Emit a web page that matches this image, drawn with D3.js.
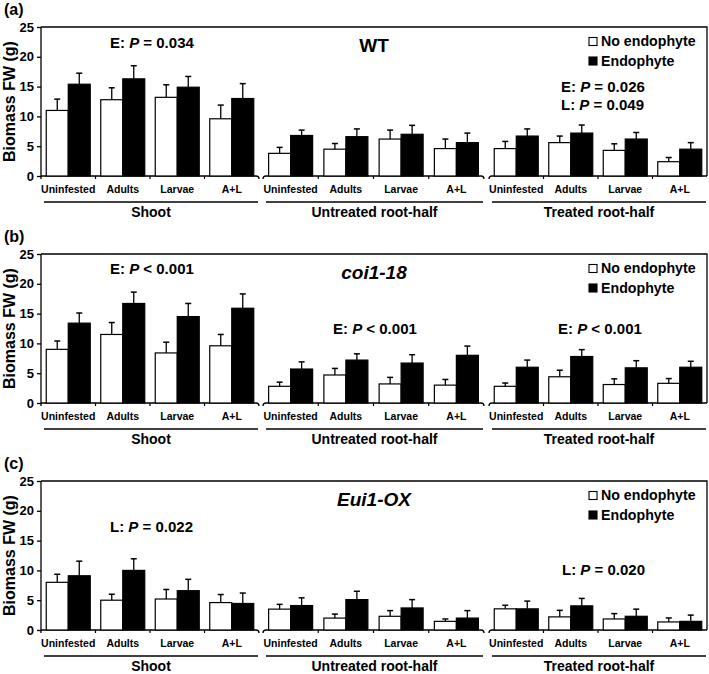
<!DOCTYPE html>
<html><head><meta charset="utf-8">
<script src="https://cdn.jsdelivr.net/npm/d3@7"></script>
<style>
html,body{margin:0;padding:0;background:#fff;}
svg{display:block;font-family:"Liberation Sans",Arial,sans-serif;font-weight:bold;}
</style></head>
<body><svg id="chart" width="709" height="674"></svg>
<script>
// ---------- data ----------
const categories = ["Uninfested", "Adults", "Larvae", "A+L"];
const groups = ["Shoot", "Untreated root-half", "Treated root-half"];
const seriesNames = ["No endophyte", "Endophyte"];
const yTicks = [0, 5, 10, 15, 20, 25];
const panelLetters = ["(a)", "(b)", "(c)"];
const genotypes = ["WT", "coi1-18", "Eui1-OX"];

// values in order: Shoot(U,A,L,A+L), Untreated(U,A,L,A+L), Treated(U,A,L,A+L)
const wtNoEndo      = [11.0, 12.8, 13.2, 9.6, 3.8, 4.5, 6.2, 4.6, 4.6, 5.6, 4.3, 2.4];
const wtNoEndoErr   = [1.9, 2.0, 2.1, 2.3, 1.0, 0.95, 1.5, 1.6, 1.2, 1.1, 1.1, 0.7];
const wtEndo        = [15.4, 16.3, 14.9, 13.0, 6.8, 6.6, 7.0, 5.6, 6.7, 7.2, 6.2, 4.5];
const wtEndoErr     = [1.85, 2.2, 1.8, 2.5, 0.9, 1.3, 1.5, 1.6, 1.2, 1.35, 1.1, 1.1];

const coiNoEndo     = [9.0, 11.5, 8.4, 9.6, 2.8, 4.7, 3.2, 3.0, 2.8, 4.4, 3.1, 3.3];
const coiNoEndoErr  = [1.4, 2.0, 1.8, 1.9, 0.7, 1.1, 1.1, 0.95, 0.55, 1.1, 0.95, 0.8];
const coiEndo       = [13.4, 16.7, 14.5, 15.9, 5.7, 7.2, 6.7, 8.0, 6.0, 7.8, 5.9, 6.0];
const coiEndoErr    = [1.7, 1.9, 2.2, 2.4, 1.2, 1.05, 1.4, 1.55, 1.2, 1.15, 1.2, 1.0];

const euiNoEndo     = [8.0, 5.0, 5.2, 4.6, 3.5, 2.0, 2.3, 1.45, 3.55, 2.2, 1.85, 1.35];
const euiNoEndoErr  = [1.35, 1.0, 1.6, 1.35, 0.8, 0.67, 0.95, 0.4, 0.6, 1.1, 0.9, 0.67];
const euiEndo       = [9.1, 10.0, 6.6, 4.45, 4.1, 5.1, 3.7, 2.0, 3.55, 4.05, 2.3, 1.45];
const euiEndoErr    = [2.45, 1.95, 1.9, 1.75, 1.3, 1.4, 1.4, 1.25, 1.3, 1.25, 1.2, 1.05];

// statistics annotations: [group index, line1, line2]
const wtStats  = [[0, ["E", "=", "0.034"]], [2, ["E", "=", "0.026"], ["L", "=", "0.049"]]];
const coiStats = [[0, ["E", "<", "0.001"]], [1, ["E", "<", "0.001"]], [2, ["E", "<", "0.001"]]];
const euiStats = [[0, ["L", "=", "0.022"]], [2, ["L", "=", "0.020"]]];

// ---------- layout ----------
const panels = [
  {letter: panelLetters[0], title: genotypes[0], italic: false, no: wtNoEndo, noErr: wtNoEndoErr, en: wtEndo, enErr: wtEndoErr, stats: wtStats,
   statPos: {0: [110, 21], 2: [561, 65]}, top: 27},
  {letter: panelLetters[1], title: genotypes[1], italic: true, no: coiNoEndo, noErr: coiNoEndoErr, en: coiEndo, enErr: coiEndoErr, stats: coiStats,
   statPos: {0: [110, 20], 1: [333, 80], 2: [558, 80]}, top: 254},
  {letter: panelLetters[2], title: genotypes[2], italic: true, no: euiNoEndo, noErr: euiNoEndoErr, en: euiEndo, enErr: euiEndoErr, stats: euiStats,
   statPos: {0: [110, 51], 2: [562, 94]}, top: 481}
];
const plotH = 149;
const xLeft = 41, xRight = 707;
const groupRanges = [[41, 259], [263, 484], [489, 707]];
const barW = 22;

const svg = d3.select("#chart");

panels.forEach(p => {
  const g = svg.append("g");
  const y0 = p.top + plotH;
  const y = d3.scaleLinear().domain([0, 25]).range([y0, p.top]);

  // panel letter
  g.append("text").attr("x", 4).attr("y", p.top - 12).attr("font-size", 16).text(p.letter);

  // y axis title
  g.append("text").attr("transform", `translate(15,${(p.top + y0) / 2}) rotate(-90)`)
    .attr("text-anchor", "middle").attr("font-size", 16).text("Biomass FW (g)");

  // y axis
  const yAxis = d3.axisLeft(y).tickValues(yTicks).tickSize(4).tickSizeOuter(0).tickPadding(3);
  const ya = g.append("g").attr("transform", `translate(${xLeft},0)`).call(yAxis);
  ya.select(".domain").remove();
  ya.selectAll("line").attr("stroke", "#000").attr("stroke-width", 1.3);
  ya.selectAll("text").attr("font-size", 13).attr("font-family", "Liberation Sans, Arial, sans-serif").attr("font-weight", "bold").attr("fill", "#000");
  g.append("line").attr("x1", xLeft).attr("x2", xLeft).attr("y1", p.top).attr("y2", y0 + 3)
    .attr("stroke", "#000").attr("stroke-width", 1.3);

  // frame top & right
  g.append("path").attr("d", `M${xLeft},${p.top}H${xRight}V${y0}`).attr("fill", "none")
    .attr("stroke", "#000").attr("stroke-width", 1.3);

  groupRanges.forEach((gr, gi) => {
    const x = d3.scaleBand().domain(categories).range(gr);
    const bw = x.bandwidth();
    const xs = d3.scaleBand().domain(seriesNames).range([(bw - 2 * barW) / 2, (bw + 2 * barW) / 2]);

    // x axis line with hooked ends
    const [a, b] = gr;
    let d;
    if (gi === 0) d = `M${a},${y0}H${b - 3}Q${b},${y0} ${b},${y0 + 3}`;
    else d = `M${a},${y0 + 3}Q${a},${y0} ${a + 3},${y0}H${b - 3}Q${b},${y0} ${b},${y0 + 3}`;
    if (gi === 2) d = `M${a},${y0 + 3}Q${a},${y0} ${a + 3},${y0}H${b}`;
    g.append("path").attr("d", d).attr("fill", "none").attr("stroke", "#000").attr("stroke-width", 1.3);
    // internal category ticks
    categories.slice(1).forEach(c => {
      g.append("line").attr("x1", x(c)).attr("x2", x(c)).attr("y1", y0).attr("y2", y0 + 3)
        .attr("stroke", "#000").attr("stroke-width", 1.2);
    });

    categories.forEach((c, ci) => {
      const idx = gi * 4 + ci;
      const vals = [[p.no[idx], p.noErr[idx], "#fff"], [p.en[idx], p.enErr[idx], "#000"]];
      vals.forEach((v, si) => {
        const bx = x(c) + xs(seriesNames[si]);
        const cx = bx + barW / 2;
        // error bar
        g.append("line").attr("x1", cx).attr("x2", cx).attr("y1", y(v[0])).attr("y2", y(v[0] + v[1]))
          .attr("stroke", "#000").attr("stroke-width", 1.3);
        g.append("line").attr("x1", cx - 3).attr("x2", cx + 3).attr("y1", y(v[0] + v[1])).attr("y2", y(v[0] + v[1]))
          .attr("stroke", "#000").attr("stroke-width", 1.5);
        g.append("rect").attr("x", bx).attr("y", y(v[0])).attr("width", barW).attr("height", y0 - y(v[0]))
          .attr("fill", v[2]).attr("stroke", "#000").attr("stroke-width", 1.2);
      });
      g.append("text").attr("x", x(c) + bw / 2).attr("y", y0 + 16.5).attr("text-anchor", "middle")
        .attr("font-size", 10.5).text(c);
    });

    // group underline & label
    g.append("line").attr("x1", a + 3).attr("x2", b - 1).attr("y1", y0 + 26).attr("y2", y0 + 26)
      .attr("stroke", "#000").attr("stroke-width", 1.3);
    g.append("text").attr("x", (a + b) / 2 + 1).attr("y", y0 + 40.5).attr("text-anchor", "middle")
      .attr("font-size", 14).text(groups[gi]);
  });

  // genotype title
  g.append("text").attr("x", (xLeft + xRight) / 2).attr("y", p.top + 24.5).attr("text-anchor", "middle")
    .attr("font-size", 19).attr("font-style", p.italic ? "italic" : "normal").text(p.title);

  // legend
  seriesNames.forEach((s, si) => {
    const by = p.top + 19 + si * 19.5;
    g.append("rect").attr("x", 589).attr("y", by - 8.5).attr("width", 8).attr("height", 8)
      .attr("fill", si === 0 ? "#fff" : "#000").attr("stroke", "#000").attr("stroke-width", 1.1);
    g.append("text").attr("x", 601).attr("y", by).attr("font-size", 14.2).text(s);
  });

  // stats
  p.stats.forEach(st => {
    const gi = st[0];
    const [sx, sy] = p.statPos[gi];
    st.slice(1).forEach((ln, li) => {
      const t = g.append("text").attr("x", sx).attr("y", p.top + sy + li * 17.5).attr("font-size", 15);
      t.append("tspan").text(ln[0] + ": ");
      t.append("tspan").attr("font-style", "italic").text("P");
      t.append("tspan").text(" " + ln[1] + " " + ln[2]);
    });
  });
});
</script></body></html>
